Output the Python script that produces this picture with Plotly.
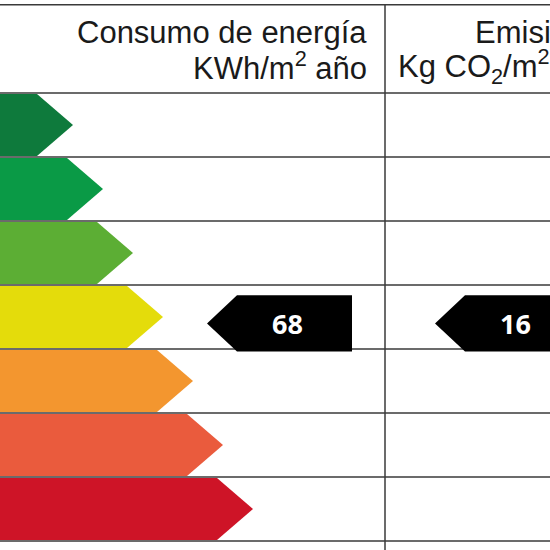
import plotly.graph_objects as go

# clases de la etiqueta energetica
clases = ["A", "B", "C", "D", "E", "F", "G"]
colores = ["#0e7a3c", "#0a9a46", "#5cae34", "#e4dc0b", "#f3962f", "#ea5b3d", "#ce1427"]

# valores del edificio
columnas = ["Consumo de energía", "Emisiones"]
valores = [68, 16]
clase_edificio = "D"

fig = go.Figure()

# flechas de colores (filas de altura 1 en el eje y)
for i, (c, col) in enumerate(zip(clases, colores)):
    x1 = 37 + 30 * i
    tip = x1 + 36
    top, bot = i + 0.015, i + 0.985
    fig.add_trace(go.Scatter(
        x=[0, x1, tip, x1, 0, 0],
        y=[top, top, i + 0.5, bot, bot, top],
        fill="toself", fillcolor=col, mode="lines",
        line=dict(color=col, width=0), hoverinfo="skip", name=c))

# indicadores negros
fila = clases.index(clase_edificio)
mid = fila + 0.6
h = 0.44
starts = [207, 435]
for v, x0 in zip(valores, starts):
    xr = x0 + 30
    xe = x0 + 145
    fig.add_trace(go.Scatter(
        x=[x0, xr, xe, xe, xr, x0],
        y=[mid, mid - h, mid - h, mid + h, mid + h, mid],
        fill="toself", fillcolor="black", mode="lines",
        line=dict(color="black", width=0), hoverinfo="skip"))
    fig.add_annotation(x=xr + 50, y=mid, text="<b>%d</b>" % v, showarrow=False,
                       font=dict(family="Open Sans", size=27, color="white"),
                       xanchor="center", yanchor="middle")

# rejilla
lc = "#3a3a3a"
for k in range(len(clases) + 1):
    fig.add_shape(type="line", x0=0, x1=550, y0=k, y1=k, line=dict(color=lc, width=1.5), layer="below")
fig.add_shape(type="line", x0=0, x1=550, y0=-1.38, y1=-1.38, line=dict(color=lc, width=1.5))
fig.add_shape(type="line", x0=385, x1=385, y0=-1.38, y1=7.2, line=dict(color=lc, width=1.5))

# cabeceras
hf = dict(family="Liberation Sans", size=31, color="#1a1a1a")
fig.add_annotation(x=369, y=-0.94, text="Consumo de energía", showarrow=False,
                   xanchor="right", yanchor="middle", font=hf)
fig.add_annotation(x=369, y=-0.42, text="KWh/m<sup>2</sup> año", showarrow=False,
                   xanchor="right", yanchor="middle", font=hf)
fig.add_annotation(x=473, y=-0.94, text="Emisiones", showarrow=False,
                   xanchor="left", yanchor="middle", font=hf)
fig.add_annotation(x=396, y=-0.42, text="Kg CO<sub>2</sub>/m<sup>2</sup> año", showarrow=False,
                   xanchor="left", yanchor="middle", font=hf)

fig.update_layout(
    width=550, height=550,
    margin=dict(l=0, r=0, t=0, b=0),
    paper_bgcolor="white", plot_bgcolor="white",
    showlegend=False,
    xaxis=dict(range=[0, 550], visible=False, fixedrange=True),
    yaxis=dict(range=[457 / 64, -93 / 64], visible=False, fixedrange=True),
)

fig.write_html("out.html", config={"displayModeBar": False},
               post_script="document.body.style.margin='0';")
